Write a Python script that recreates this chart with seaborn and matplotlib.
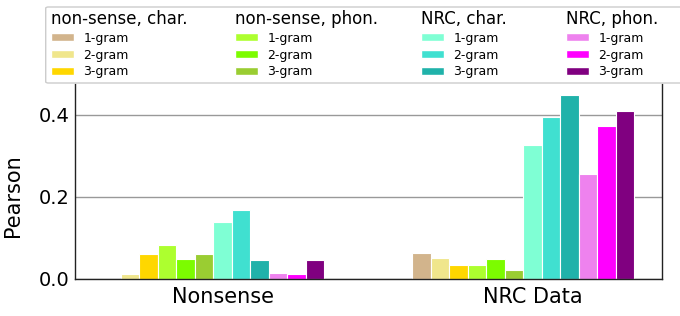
import matplotlib
matplotlib.use("Agg")
import matplotlib.pyplot as plt
import seaborn as sns
import pandas as pd
from matplotlib.patches import Patch, FancyBboxPatch

# data
datasets = ["Nonsense", "NRC Data"]
groups = ["non-sense, char.", "non-sense, phon.", "NRC, char.", "NRC, phon."]
ngrams = ["1-gram", "2-gram", "3-gram"]
colors = ["tan", "khaki", "gold",
          "greenyellow", "lawngreen", "yellowgreen",
          "aquamarine", "turquoise", "lightseagreen",
          "violet", "magenta", "purple"]
nonsense_vals = [0.0, 0.012, 0.061, 0.083, 0.049, 0.061,
                 0.139, 0.168, 0.046, 0.015, 0.013, 0.046]
nrc_vals = [0.064, 0.051, 0.035, 0.033, 0.048, 0.023,
            0.327, 0.396, 0.449, 0.256, 0.373, 0.410]

series = [f"{g} {n}" for g in groups for n in ngrams]
rows = []
for ds, vals in zip(datasets, [nonsense_vals, nrc_vals]):
    for s, v in zip(series, vals):
        rows.append({"dataset": ds, "series": s, "pearson": v})
df = pd.DataFrame(rows)

sns.set_style("white")
plt.rcParams["font.family"] = ["DejaVu Sans"]
plt.rcParams["text.color"] = "black"
plt.rcParams["axes.labelcolor"] = "black"
plt.rcParams["xtick.color"] = "black"
plt.rcParams["ytick.color"] = "black"

W, H = 680, 316
fig = plt.figure(figsize=(W / 100, H / 100), dpi=100)
ax = fig.add_axes([75 / W, 1 - 279 / H, (662 - 75) / W, (279 - 84) / H])

ax.yaxis.grid(True, color="#999999", linewidth=1.0)
ax.set_axisbelow(True)
sns.barplot(data=df, x="dataset", y="pearson", hue="series",
            order=datasets, hue_order=series, palette=colors,
            saturation=1, width=0.716, edgecolor="white", linewidth=0.8,
            legend=False, ax=ax)

bar_w = 0.716 / len(series)
ax.set_xlim(-0.446, 1.447)
ax.set_ylim(0, 0.4756)
ax.set_xticks([i + bar_w / 2 for i in range(len(datasets))])
ax.set_xticklabels(datasets, fontsize=15)
ax.set_yticks([0.0, 0.2, 0.4])
ax.set_yticklabels(["0.0", "0.2", "0.4"], fontsize=14)
ax.tick_params(axis="y", length=3, pad=1, color="#333333")
ax.tick_params(axis="x", length=3, pad=3, color="#333333")
ax.set_xlabel("")
ax.set_ylabel("Pearson", fontsize=15)
ax.yaxis.set_label_coords(-0.089, 0.43)

for side in ["left", "right", "bottom"]:
    ax.spines[side].set_visible(True)
    ax.spines[side].set_color("#222222")
    ax.spines[side].set_linewidth(1.0)
ax.spines["top"].set_visible(False)

# legend frame spanning the top of the figure
frame = FancyBboxPatch((45.7 / W, 1 - 83 / H), (760 - 45.7) / W, (83 - 7) / H,
                       boxstyle="round,pad=0,rounding_size=0.004",
                       transform=fig.transFigure, facecolor="white",
                       edgecolor="#cccccc", linewidth=1.0, zorder=2)
fig.patches.append(frame)

col_x = [51, 235, 421, 566]
for gi, g in enumerate(groups):
    handles = [Patch(facecolor=c) for c in colors[gi * 3:gi * 3 + 3]]
    fig.legend(handles=handles, labels=ngrams, title=g,
               loc="upper left", bbox_to_anchor=(col_x[gi] / W, 1 - 10 / H),
               frameon=False, borderpad=0, borderaxespad=0,
               fontsize=9, title_fontsize=12, alignment="left",
               labelspacing=0.3, handlelength=1.85, handleheight=0.6,
               handletextpad=0.75)

fig.savefig("out.png", dpi=100)
